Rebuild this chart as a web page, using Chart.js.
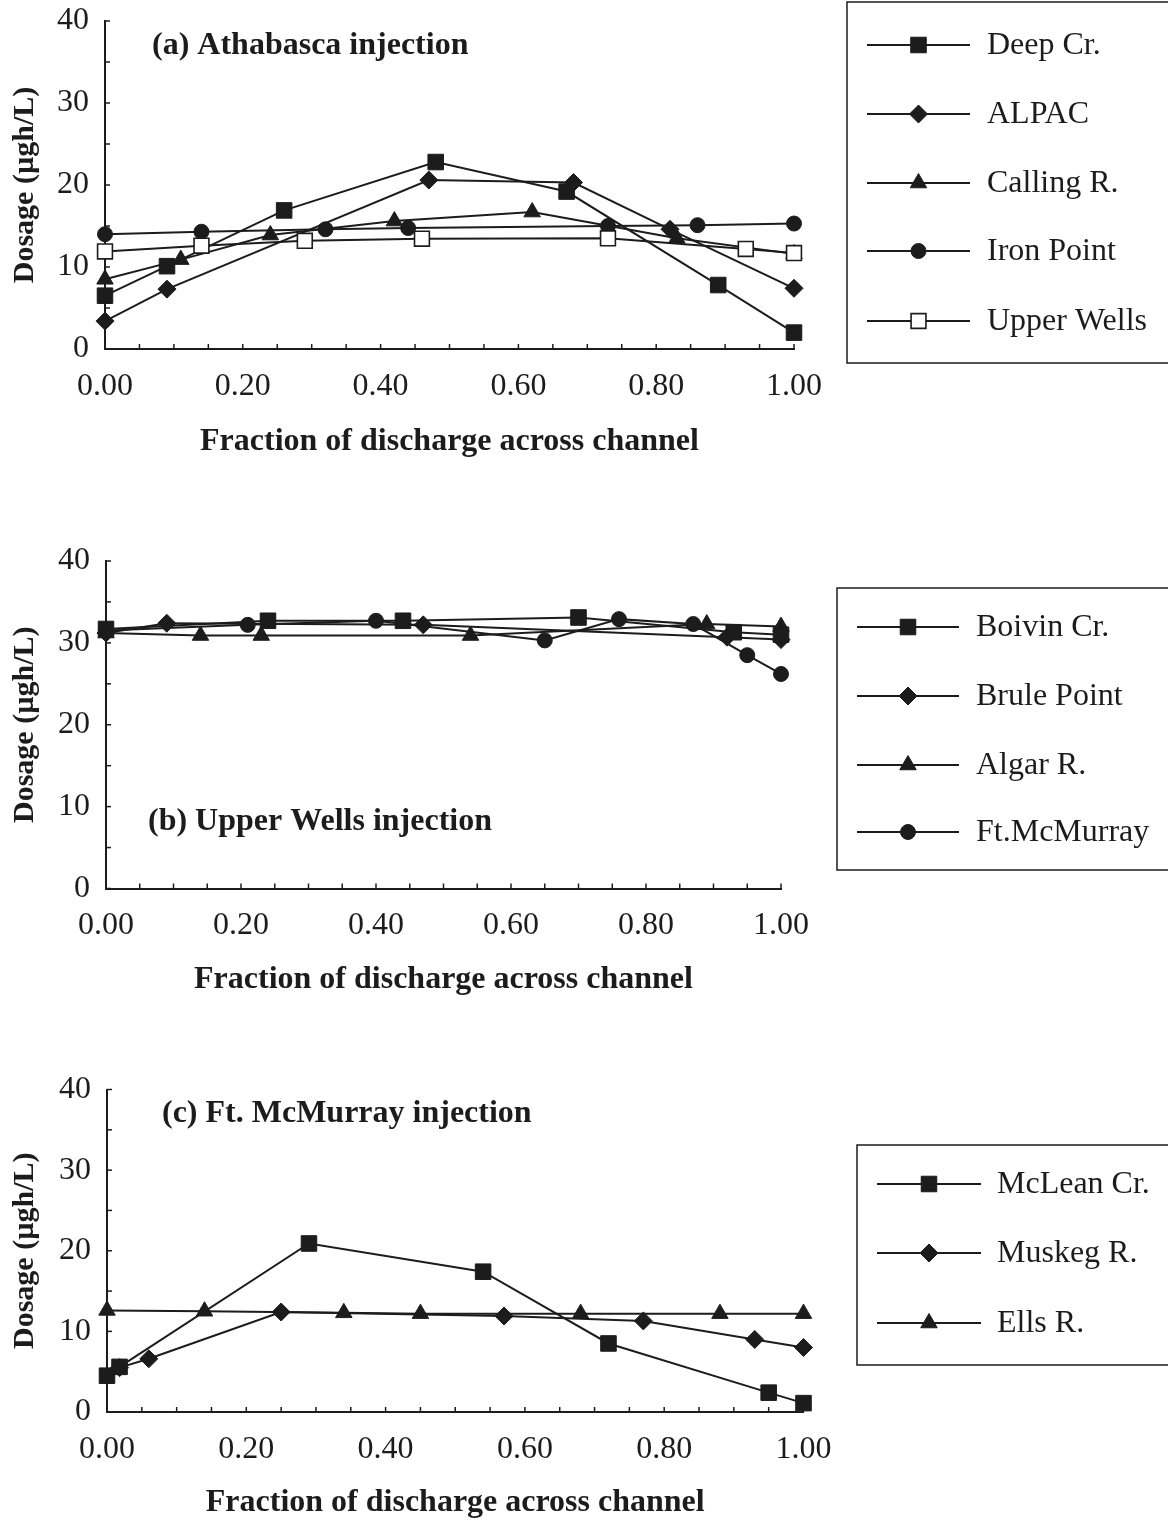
<!DOCTYPE html>
<html><head><meta charset="utf-8">
<script src="https://cdn.jsdelivr.net/npm/chart.js@4.4.1/dist/chart.umd.min.js"></script>
<style>
html,body{margin:0;padding:0;background:#fff;}
body{width:1168px;height:1523px;position:relative;overflow:hidden;}
canvas{position:absolute;left:0;}
</style></head><body>
<canvas id="ca" width="1168" height="480" style="top:0px"></canvas>
<canvas id="cb" width="1168" height="500" style="top:520px"></canvas>
<canvas id="cc" width="1168" height="473" style="top:1050px"></canvas>
<script>
// ---------- data ----------
const xTickValues = [0, 0.2, 0.4, 0.6, 0.8, 1.0];
const xTickLabels = ['0.00', '0.20', '0.40', '0.60', '0.80', '1.00'];
const yTickValues = [0, 10, 20, 30, 40];
const yTickLabels = ['0', '10', '20', '30', '40'];

const xAxisTitle = 'Fraction of discharge across channel';
const yAxisTitle = 'Dosage (µgh/L)';
const panelTitles = ['(a) Athabasca injection', '(b) Upper Wells injection', '(c) Ft. McMurray injection'];

// (a) Athabasca injection
const deepCrX = [0, 0.09, 0.26, 0.48, 0.67, 0.89, 1.0];
const deepCrY = [6.5, 10.1, 16.9, 22.8, 19.2, 7.8, 2.0];
const alpacX = [0, 0.09, 0.47, 0.68, 0.82, 1.0];
const alpacY = [3.4, 7.3, 20.6, 20.3, 14.6, 7.4];
const callingX = [0, 0.11, 0.24, 0.42, 0.62, 0.83, 1.0];
const callingY = [8.5, 10.9, 13.9, 15.6, 16.7, 13.5, 11.6];
const ironX = [0, 0.14, 0.32, 0.44, 0.73, 0.86, 1.0];
const ironY = [14.0, 14.3, 14.6, 14.75, 15.0, 15.1, 15.3];
const upperWellsX = [0, 0.14, 0.29, 0.46, 0.73, 0.93, 1.0];
const upperWellsY = [11.9, 12.6, 13.2, 13.45, 13.5, 12.2, 11.7];

// (b) Upper Wells injection
const boivinX = [0, 0.24, 0.44, 0.70, 0.93, 1.0];
const boivinY = [31.7, 32.7, 32.7, 33.1, 31.3, 31.0];
const bruleX = [0, 0.09, 0.47, 0.92, 1.0];
const bruleY = [31.2, 32.4, 32.2, 30.7, 30.4];
const algarX = [0, 0.14, 0.23, 0.54, 0.89, 1.0];
const algarY = [31.2, 30.9, 30.9, 30.9, 32.3, 32.0];
const ftMcX = [0, 0.21, 0.40, 0.65, 0.76, 0.87, 0.95, 1.0];
const ftMcY = [31.5, 32.2, 32.7, 30.3, 32.9, 32.3, 28.5, 26.2];

// (c) Ft. McMurray injection
const mcleanX = [0, 0.018, 0.29, 0.54, 0.72, 0.95, 1.0];
const mcleanY = [4.5, 5.6, 20.9, 17.4, 8.5, 2.4, 1.1];
const muskegX = [0.018, 0.06, 0.25, 0.57, 0.77, 0.93, 1.0];
const muskegY = [5.5, 6.6, 12.4, 11.9, 11.3, 9.0, 8.0];
const ellsX = [0, 0.14, 0.34, 0.45, 0.68, 0.88, 1.0];
const ellsY = [12.6, 12.5, 12.3, 12.2, 12.2, 12.2, 12.2];

// ---------- styling ----------
const INK = '#1c1c1c';
const SERIF = '"Liberation Serif","Times New Roman",Times,serif';
const MARK = {
  square:  {pointStyle: 'rect', radius: 11, fill: INK, bw: 1},
  diamond: {pointStyle: 'rectRot', radius: 9, fill: INK, bw: 1},
  triangle:{pointStyle: 'triangle', radius: 9.5, fill: INK, bw: 1},
  circle:  {pointStyle: 'circle', radius: 7.5, fill: INK, bw: 1},
  open:    {pointStyle: 'rect', radius: 10.5, fill: '#ffffff', bw: 1.6}
};

function series(label, xs, ys, mark, order) {
  const m = MARK[mark];
  return {
    label,
    data: xs.map((x, i) => ({x, y: ys[i]})),
    showLine: true,
    borderColor: INK,
    borderWidth: 2,
    tension: 0,
    pointStyle: m.pointStyle,
    pointRadius: m.radius,
    pointHoverRadius: m.radius,
    pointBackgroundColor: m.fill,
    pointBorderColor: INK,
    pointBorderWidth: m.bw,
    clip: false,
    order,
    _mark: mark
  };
}

function drawMarker(ctx, mark, x, y) {
  const m = MARK[mark];
  const r = m.radius;
  ctx.save();
  ctx.fillStyle = m.fill; ctx.strokeStyle = INK; ctx.lineWidth = m.bw;
  ctx.beginPath();
  if (m.pointStyle === 'rect') {
    const s = Math.SQRT1_2 * r; ctx.rect(x - s, y - s, 2 * s, 2 * s);
  } else if (m.pointStyle === 'rectRot') {
    ctx.moveTo(x - r, y); ctx.lineTo(x, y - r); ctx.lineTo(x + r, y); ctx.lineTo(x, y + r); ctx.closePath();
  } else if (m.pointStyle === 'triangle') {
    let a = 0;
    ctx.moveTo(x + Math.sin(a) * r, y - Math.cos(a) * r);
    a += 2 * Math.PI / 3; ctx.lineTo(x + Math.sin(a) * r, y - Math.cos(a) * r);
    a += 2 * Math.PI / 3; ctx.lineTo(x + Math.sin(a) * r, y - Math.cos(a) * r);
    ctx.closePath();
  } else {
    ctx.arc(x, y, r, 0, Math.PI * 2);
  }
  ctx.fill(); ctx.stroke();
  ctx.restore();
}

const decor = {
  id: 'decor',
  afterDraw(chart, args, o) {
    const {ctx, chartArea: ca} = chart;
    const sx = chart.scales.x, sy = chart.scales.y;
    ctx.save();
    ctx.strokeStyle = INK; ctx.lineWidth = 1.5;
    // inward minor ticks
    for (let k = 0; k <= 20; k++) {
      const px = sx.getPixelForValue(k * 0.05);
      ctx.beginPath(); ctx.moveTo(px, ca.bottom); ctx.lineTo(px, ca.bottom - 5); ctx.stroke();
    }
    for (let k = 0; k <= 8; k++) {
      const py = sy.getPixelForValue(k * 5);
      ctx.beginPath(); ctx.moveTo(ca.left, py); ctx.lineTo(ca.left + 5, py); ctx.stroke();
    }
    // panel title
    ctx.fillStyle = INK;
    ctx.font = 'bold 32px ' + SERIF;
    ctx.textBaseline = 'middle'; ctx.textAlign = 'left';
    ctx.fillText(o.title, o.titleX, o.titleY);
    // legend box
    const L = o.legend;
    ctx.lineWidth = 1.5;
    ctx.strokeRect(L.left, L.top, 1200 - L.left, L.bottom - L.top);
    ctx.font = '32px ' + SERIF;
    chart.data.datasets.forEach((ds, i) => {
      const yy = L.rows[i];
      ctx.strokeStyle = INK; ctx.lineWidth = 2;
      ctx.beginPath(); ctx.moveTo(L.x1, yy); ctx.lineTo(L.x2, yy); ctx.stroke();
      drawMarker(ctx, ds._mark, (L.x1 + L.x2) / 2, yy);
      ctx.fillStyle = INK;
      ctx.fillText(ds.label, L.tx, yy + 1);
    });
    ctx.restore();
  }
};

function makePanel(id, datasets, lay) {
  new Chart(document.getElementById(id), {
    type: 'scatter',
    data: {datasets},
    plugins: [decor],
    options: {
      responsive: false,
      animation: false,
      events: [],
      layout: {padding: {left: 0, top: lay.top, right: lay.right, bottom: 0}},
      scales: {
        x: {
          type: 'linear', min: 0, max: 1,
          afterBuildTicks: s => { s.ticks = xTickValues.map(v => ({value: v})); },
          afterFit: s => { s.height = lay.xh; },
          ticks: {callback: (v, i) => xTickLabels[i], font: {family: SERIF, size: 32}, color: INK, padding: 0, maxRotation: 0, autoSkip: false},
          grid: {display: false, drawTicks: true, tickLength: 18},
          border: {display: true, color: INK, width: 2},
          title: {display: true, text: xAxisTitle, color: INK, font: {family: SERIF, size: 32, weight: 'bold'}, padding: {top: 0, bottom: lay.xtp}}
        },
        y: {
          type: 'linear', min: 0, max: 40,
          afterBuildTicks: s => { s.ticks = yTickValues.map(v => ({value: v})); },
          afterFit: s => { s.width = lay.yw; },
          ticks: {callback: (v, i) => yTickLabels[i], font: {family: SERIF, size: 32}, color: INK, padding: 0, autoSkip: false},
          grid: {display: false, drawTicks: true, tickLength: 16},
          border: {display: true, color: INK, width: 2},
          title: {display: true, text: yAxisTitle, color: INK, font: {family: SERIF, size: 30, weight: 'bold'}, padding: {top: 7, bottom: 0}}
        }
      },
      plugins: {
        legend: {display: false},
        tooltip: {enabled: false},
        decor: lay.decor
      }
    }
  });
}

makePanel('ca', [
  series('Deep Cr.', deepCrX, deepCrY, 'square', 2),
  series('ALPAC', alpacX, alpacY, 'diamond', 3),
  series('Calling R.', callingX, callingY, 'triangle', 4),
  series('Iron Point', ironX, ironY, 'circle', 5),
  series('Upper Wells', upperWellsX, upperWellsY, 'open', 0)
], {top: 21, right: 374, xh: 131, yw: 105, xtp: 19,
    decor: {title: panelTitles[0], titleX: 152, titleY: 46,
      legend: {left: 847, top: 2, bottom: 363, x1: 867, x2: 970, tx: 987, rows: [45, 114, 183, 251, 321]}}});

makePanel('cb', [
  series('Boivin Cr.', boivinX, boivinY, 'square', 2),
  series('Brule Point', bruleX, bruleY, 'diamond', 3),
  series('Algar R.', algarX, algarY, 'triangle', 4),
  series('Ft.McMurray', ftMcX, ftMcY, 'circle', 1)
], {top: 41, right: 387, xh: 131.5, yw: 106, xtp: 21,
    decor: {title: panelTitles[1], titleX: 148, titleY: 302,
      legend: {left: 837, top: 68, bottom: 350, x1: 857, x2: 959, tx: 976, rows: [107, 176, 245, 312]}}});

makePanel('cc', [
  series('McLean Cr.', mcleanX, mcleanY, 'square', 1),
  series('Muskeg R.', muskegX, muskegY, 'diamond', 2),
  series('Ells R.', ellsX, ellsY, 'triangle', 3)
], {top: 39.5, right: 364.5, xh: 111, yw: 107, xtp: 1,
    decor: {title: panelTitles[2], titleX: 162, titleY: 64,
      legend: {left: 857, top: 95, bottom: 315, x1: 877, x2: 981, tx: 997, rows: [134, 203, 273]}}});
</script>
</body></html>
